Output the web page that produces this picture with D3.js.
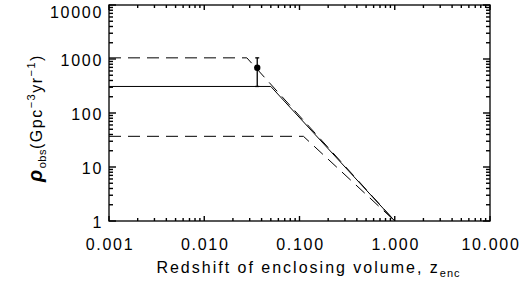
<!DOCTYPE html>
<html>
<head>
<meta charset="utf-8">
<script src="https://cdn.jsdelivr.net/npm/d3@7"></script>
<style>
body { margin: 0; background: #fff; }
svg { display: block; }
text { font-family: "Liberation Sans", Arial, sans-serif; fill: #000; }
</style>
</head>
<body>
<script>
let w = 531, h = 282;
let margin = {left: 109, right: 41, top: 5, bottom: 61};

// tick values and labels
let xTicks = [0.001, 0.01, 0.1, 1, 10];
let xTickLabels = ["0.001", "0.010", "0.100", "1.000", "10.000"];
let yTicks = [1, 10, 100, 1000, 10000];
let yTickLabels = ["1", "10", "100", "1000", "10000"];

// model curves (z_enc, rate)
let solidZ = [0.001, 0.05, 1.0];
let solidRate = [310, 310, 1];
let upperZ = [0.001, 0.028, 1.0];
let upperRate = [1050, 1050, 1];
let lowerZ = [0.001, 0.11, 1.0];
let lowerRate = [37, 37, 1];

// observed point with error bar
let obsZ = [0.036];
let obsRate = [690];
let obsLow = [310];
let obsHigh = [1050];

let pw = w - margin.left - margin.right;
let ph = h - margin.top - margin.bottom;

let svg = d3.select("body").append("svg").attr("width", w).attr("height", h);
let g = svg.append("g").attr("transform", "translate(" + margin.left + "," + margin.top + ")");

let x = d3.scaleLog().domain([0.001, 10]).range([0, pw]);
let y = d3.scaleLog().domain([1, 10000]).range([ph, 0]);

// box
g.append("rect").attr("width", pw).attr("height", ph)
  .style("fill", "none").attr("stroke", "#111").attr("stroke-width", 1.4);

// minor ticks 2..9 per decade
let minorX = [], minorY = [];
xTicks.slice(0, -1).forEach(t => { for (let k = 2; k < 10; k++) minorX.push(t * k); });
yTicks.slice(0, -1).forEach(t => { for (let k = 2; k < 10; k++) minorY.push(t * k); });

let xt = xTicks.map(v => ({v: v, len: 5})).concat(minorX.map(v => ({v: v, len: 3})));
let yt = yTicks.map(v => ({v: v, len: 7})).concat(minorY.map(v => ({v: v, len: 4})));

let ticks = g.append("g").attr("class", "ticks");
ticks.selectAll("path.xb").data(xt).enter().append("path").attr("class", "xb")
  .attr("d", d => "M" + x(d.v) + "," + ph + "V" + (ph - d.len));
ticks.selectAll("path.xt").data(xt).enter().append("path").attr("class", "xt")
  .attr("d", d => "M" + x(d.v) + ",0V" + d.len);
ticks.selectAll("path.yl").data(yt).enter().append("path").attr("class", "yl")
  .attr("d", d => "M0," + y(d.v) + "H" + d.len);
ticks.selectAll("path.yr").data(yt).enter().append("path").attr("class", "yr")
  .attr("d", d => "M" + pw + "," + y(d.v) + "H" + (pw - d.len));
ticks.selectAll("path").style("fill", "none").style("stroke", "#000").style("stroke-width", "1.4px");

// tick labels
g.selectAll("text.xlab").data(xTicks).enter().append("text").attr("class", "xlab")
  .attr("x", d => x(d) + 1).attr("y", ph + 29)
  .attr("text-anchor", "middle").attr("font-size", 16).style("letter-spacing", "1.7px")
  .text((d, i) => xTickLabels[i]);
g.selectAll("text.ylab").data(yTicks).enter().append("text").attr("class", "ylab")
  .attr("x", -6).attr("y", d => y(d) + (d === 10000 ? 13 : 7))
  .attr("text-anchor", "end").attr("font-size", 16).style("letter-spacing", "1.7px")
  .text((d, i) => yTickLabels[i]);

// curves
let line = d3.line().x(d => x(d[0])).y(d => y(d[1]));
g.append("path").attr("d", line(d3.zip(solidZ, solidRate)))
  .attr("fill", "none").attr("stroke", "#000").attr("stroke-width", 1);
g.append("path").attr("d", line(d3.zip(upperZ, upperRate)))
  .attr("fill", "none").attr("stroke", "#000").attr("stroke-width", 1).attr("stroke-dasharray", "12,7");
g.append("path").attr("d", line(d3.zip(lowerZ, lowerRate)))
  .attr("fill", "none").attr("stroke", "#000").attr("stroke-width", 1).attr("stroke-dasharray", "12,7");

// observed point
let obs = obsZ.map((z, i) => ({z: z, r: obsRate[i], lo: obsLow[i], hi: obsHigh[i]}));
let og = g.selectAll("g.obs").data(obs).enter().append("g").attr("class", "obs")
  .attr("stroke", "#000").attr("stroke-width", 1.3);
og.append("line").attr("x1", d => x(d.z)).attr("x2", d => x(d.z))
  .attr("y1", d => y(d.lo)).attr("y2", d => y(d.hi));
og.append("line").attr("x1", d => x(d.z) - 2).attr("x2", d => x(d.z) + 2)
  .attr("y1", d => y(d.hi)).attr("y2", d => y(d.hi));
og.append("line").attr("x1", d => x(d.z) - 2).attr("x2", d => x(d.z) + 2)
  .attr("y1", d => y(d.lo)).attr("y2", d => y(d.lo));
og.append("circle").attr("cx", d => x(d.z)).attr("cy", d => y(d.r)).attr("r", 3.2)
  .attr("fill", "#000").attr("stroke", "none");

// x label
let xl = svg.append("text").attr("x", margin.left + pw / 2 + 9).attr("y", 273)
  .attr("text-anchor", "middle").attr("font-size", 16).style("letter-spacing", "2px");
xl.append("tspan").text("Redshift of enclosing volume, z");
xl.append("tspan").attr("font-size", 11).attr("dy", 4).style("letter-spacing", "1px").text("enc");

// y label
let yl = svg.append("text").attr("transform", "translate(42," + (margin.top + ph / 2 + 5) + ") rotate(-90)")
  .attr("text-anchor", "middle").attr("font-size", 16).style("letter-spacing", "1.5px");
yl.append("tspan").attr("font-size", 20).attr("font-style", "italic").attr("font-weight", "bold").text("\u03c1");
yl.append("tspan").attr("font-size", 11).attr("dy", 4).style("letter-spacing", "0.5px").text("obs");
yl.append("tspan").attr("dy", -4).text("(Gpc");
yl.append("tspan").attr("font-size", 11).attr("dy", -7).text("\u22123");
yl.append("tspan").attr("dy", 7).text("yr");
yl.append("tspan").attr("font-size", 11).attr("dy", -7).text("\u22121");
yl.append("tspan").attr("dy", 7).text(")");
</script>
</body>
</html>
